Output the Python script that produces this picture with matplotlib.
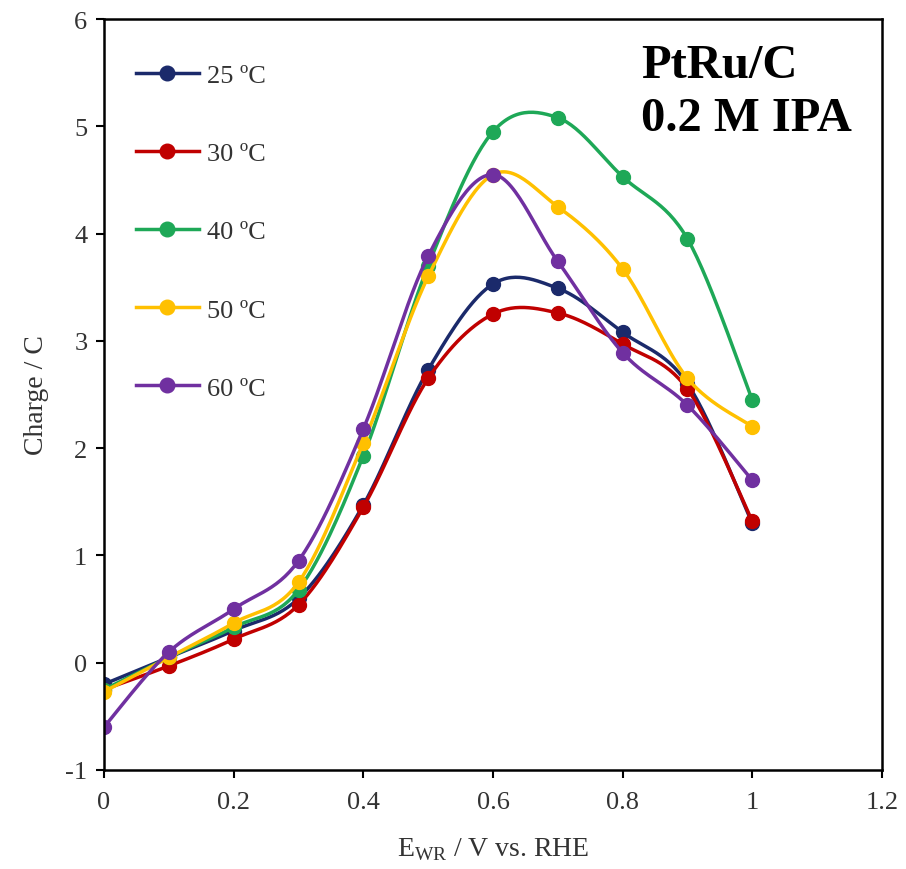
import matplotlib
matplotlib.use('Agg')
import matplotlib.pyplot as plt
import numpy as np

plt.rcParams['font.family'] = ['Liberation Serif', 'DejaVu Serif']
plt.rcParams['mathtext.fontset'] = 'custom'
plt.rcParams['mathtext.rm'] = 'Liberation Serif'
plt.rcParams['axes.unicode_minus'] = False

potential = [0, 0.1, 0.2, 0.3, 0.4, 0.5, 0.6, 0.7, 0.8, 0.9, 1.0]
labels = ['25 \u00baC', '30 \u00baC', '40 \u00baC', '50 \u00baC', '60 \u00baC']
charge_25 = [-0.20, 0.05, 0.30, 0.60, 1.47, 2.73, 3.53, 3.49, 3.08, 2.60, 1.30]
charge_30 = [-0.25, -0.03, 0.22, 0.54, 1.45, 2.65, 3.25, 3.26, 2.97, 2.55, 1.32]
charge_40 = [-0.25, 0.05, 0.33, 0.68, 1.93, 3.70, 4.95, 5.08, 4.53, 3.95, 2.45]
charge_50 = [-0.27, 0.05, 0.37, 0.75, 2.05, 3.60, 4.55, 4.25, 3.67, 2.65, 2.20]
charge_60 = [-0.60, 0.10, 0.50, 0.95, 2.18, 3.79, 4.55, 3.74, 2.89, 2.40, 1.70]
colors = ['#1B2A6B', '#C00000', '#1EA857', '#FFC000', '#7030A0']


def smooth(x, y, n=30):
    # Excel-style smoothed line (Catmull-Rom through the points)
    x = np.asarray(x, float)
    y = np.asarray(y, float)
    px = np.concatenate([[x[0]], x, [x[-1]]])
    py = np.concatenate([[y[0]], y, [y[-1]]])
    xs, ys = [], []
    t = np.linspace(0, 1, n)
    for i in range(1, len(px) - 2):
        for p, out in ((px, xs), (py, ys)):
            p0, p1, p2, p3 = p[i - 1], p[i], p[i + 1], p[i + 2]
            b1 = p1 + (p2 - p0) / 6
            b2 = p2 - (p3 - p1) / 6
            out.extend((1 - t)**3 * p1 + 3 * (1 - t)**2 * t * b1
                       + 3 * (1 - t) * t**2 * b2 + t**3 * p2)
    return xs, ys


fig = plt.figure(figsize=(9.06, 8.7), dpi=100)
ax = fig.add_axes([0.1148, 0.1138, 0.8587, 0.8632])

series = [charge_25, charge_30, charge_40, charge_50, charge_60]
for vals, lab, c in zip(series, labels, colors):
    sx, sy = smooth(potential, vals)
    ax.plot(sx, sy, color=c, lw=2.5)
    ax.plot(potential, vals, 'o', color=c, ms=10)
    ax.plot([], [], '-o', color=c, lw=2.5, ms=10.5, label=lab)

ax.set_xlim(0, 1.2)
ax.set_ylim(-1, 6)
ax.set_xticks(np.arange(0, 1.21, 0.2))
ax.set_xticklabels(['0', '0.2', '0.4', '0.6', '0.8', '1', '1.2'])
ax.set_yticks(range(-1, 7))
ax.tick_params(direction='out', length=6, width=1.5, labelsize=19,
               colors='black', labelcolor='#333333')
ax.tick_params(axis='x', pad=9)
ax.tick_params(axis='y', pad=6)
for s in ax.spines.values():
    s.set_linewidth(1.8)

ax.set_xlabel(r'E$_{\mathrm{WR}}$ / V vs. RHE', fontsize=20, color='#333333', labelpad=16)
ax.set_ylabel('Charge / C', fontsize=20, color='#333333', labelpad=12)

ax.text(0.69, 0.968, 'PtRu/C\n0.2 M IPA', transform=ax.transAxes, fontsize=35,
        fontweight='bold', va='top', ha='left', linespacing=1.25)

ax.legend(loc='upper left', bbox_to_anchor=(0.01, 0.972), frameon=False,
          fontsize=19, handlelength=2.4, handletextpad=0.3, labelspacing=2.07,
          labelcolor='#333333')

fig.savefig('out.png', dpi=100)
